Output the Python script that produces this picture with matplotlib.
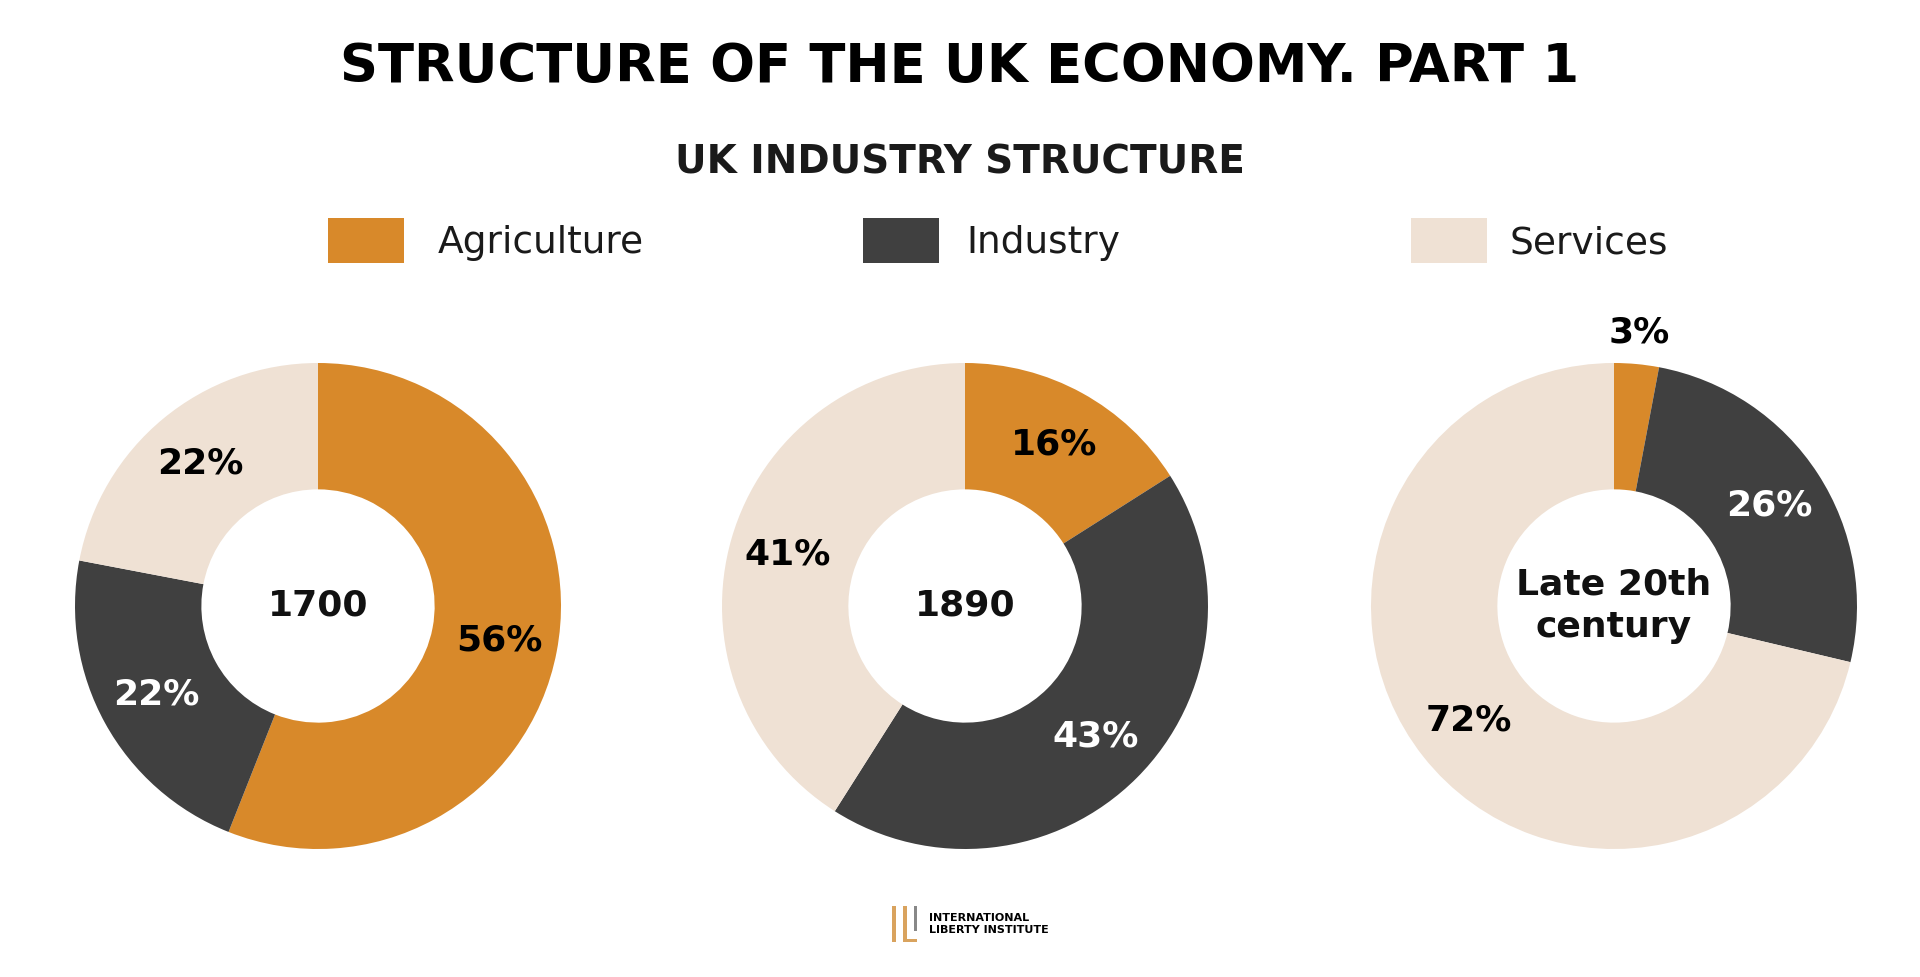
import matplotlib.pyplot as plt
import numpy as np

# ── Data ──────────────────────────────────────────────────────────────────────
SECTORS = ["Agriculture", "Industry", "Services"]
COLORS = ["#D8892A", "#404040", "#EFE1D4"]
PERIODS = ["1700", "1890", "Late 20th\ncentury"]
SHARES = [
    [56, 22, 22],
    [16, 43, 41],
    [3, 26, 72],
]
LABEL_COLORS = ["black", "white", "black"]

W, H = 1920, 977
FONT = ["DejaVu Sans"]

fig = plt.figure(figsize=(W / 100, H / 100), dpi=100)
ax = fig.add_axes([0, 0, 1, 1])

def Y(y):
    return H - y

ax.text(W / 2, Y(67), "STRUCTURE OF THE UK ECONOMY. PART 1", ha="center", va="center",
        fontsize=38, fontweight="bold", family=FONT, color="black")
ax.text(W / 2, Y(163), "UK INDUSTRY STRUCTURE", ha="center", va="center",
        fontsize=28, fontweight="bold", family=FONT, color="#1a1a1a")

# legend
for x_sq, x_txt, name, col in zip([328, 863, 1411], [438, 966, 1509], SECTORS, COLORS):
    ax.add_patch(plt.Rectangle((x_sq, Y(263)), 76, 45, color=col, lw=0))
    ax.text(x_txt, Y(243), name, ha="left", va="center", fontsize=27,
            family=FONT, color="#1a1a1a")

# donuts
centers = [318, 965, 1614]
R = 243
for cx, shares, period in zip(centers, SHARES, PERIODS):
    cy = Y(606)
    ax.pie(shares, colors=COLORS, center=(cx, cy), radius=R, startangle=90,
           counterclock=False, wedgeprops=dict(width=R * 0.52, linewidth=0),
           frame=True)
    total = sum(shares)
    start = 90.0
    for v, lc in zip(shares, LABEL_COLORS):
        span = 360.0 * v / total
        mid = np.deg2rad(start - span / 2)
        start -= span
        r = 0.76 * R if v > 5 else 1.13 * R
        if v <= 5:
            lc = "black"
        ax.text(cx + r * np.cos(mid), cy + r * np.sin(mid), f"{v}%", ha="center",
                va="center", fontsize=26, fontweight="bold", family=FONT, color=lc)
    ax.text(cx, cy, period, ha="center", va="center", fontsize=26, fontweight="bold",
            family=FONT, color="#111111", linespacing=1.3)

ax.set_xlim(0, W)
ax.set_ylim(0, H)
ax.set_aspect("auto")
ax.axis("off")

# logo
ax.add_patch(plt.Rectangle((892, Y(942)), 4, 36, color="#D9A35E", lw=0))
ax.add_patch(plt.Rectangle((903, Y(942)), 4, 36, color="#D9A35E", lw=0))
ax.add_patch(plt.Rectangle((903, Y(942)), 14, 3, color="#D9A35E", lw=0))
ax.add_patch(plt.Rectangle((914, Y(931)), 3, 25, color="#888888", lw=0))
ax.text(929, Y(924), "INTERNATIONAL\nLIBERTY INSTITUTE", ha="left", va="center",
        fontsize=8, fontweight="bold", family=FONT, color="black", linespacing=1.2)

fig.savefig("out.png", dpi=100, facecolor="white")
